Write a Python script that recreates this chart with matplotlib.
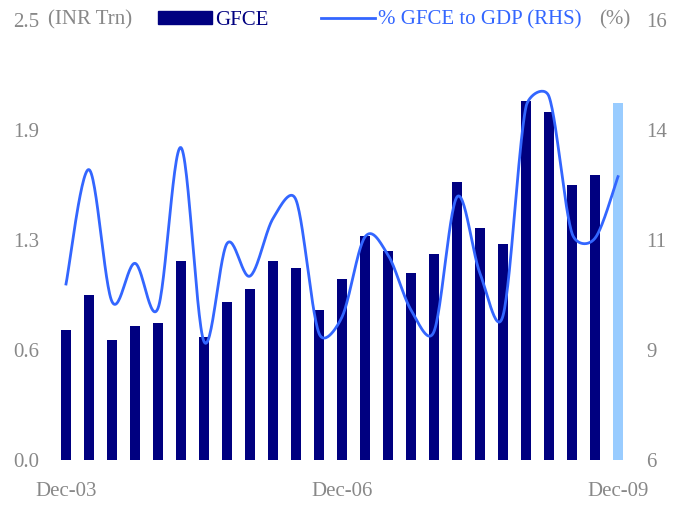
import matplotlib.pyplot as plt
import numpy as np
from matplotlib.patches import Patch
from matplotlib.lines import Line2D

# quarterly data, Dec-03 .. Dec-09
quarters = ['Dec-03', 'Mar-04', 'Jun-04', 'Sep-04', 'Dec-04', 'Mar-05', 'Jun-05', 'Sep-05', 'Dec-05',
            'Mar-06', 'Jun-06', 'Sep-06', 'Dec-06', 'Mar-07', 'Jun-07', 'Sep-07', 'Dec-07',
            'Mar-08', 'Jun-08', 'Sep-08', 'Dec-08', 'Mar-09', 'Jun-09', 'Sep-09', 'Dec-09']
gfce = [0.74, 0.94, 0.68, 0.76, 0.78, 1.13, 0.70, 0.90, 0.97, 1.13, 1.09, 0.85, 1.03,
        1.27, 1.19, 1.06, 1.17, 1.58, 1.32, 1.23, 2.04, 1.98, 1.56, 1.62, 2.03]
gfce_pct_gdp = [10.0, 12.6, 9.6, 10.47, 9.45, 13.1, 8.69, 10.92, 10.18, 11.49, 11.91, 8.88, 9.25,
                11.07, 10.66, 9.41, 8.92, 11.98, 10.24, 9.28, 14.03, 14.26, 11.15, 11.04, 12.44]
xlabels = {0: 'Dec-03', 12: 'Dec-06', 24: 'Dec-09'}
left_ticks = [0, 0.625, 1.25, 1.875, 2.5]
left_labels = ['0.0', '0.6', '1.3', '1.9', '2.5']
right_ticks = [6, 8.5, 11, 13.5, 16]
right_labels = ['6', '9', '11', '14', '16']

navy = '#000080'
light = '#99CCFF'
blue = '#3366FF'
grey = '#888888'
plt.rcParams['font.family'] = 'Liberation Serif'
fs = 15

W, H = 681, 508
fig = plt.figure(figsize=(W / 100, H / 100), dpi=100)
ax = fig.add_axes([50 / W, 48 / H, 582 / W, 440 / H])

x = np.arange(len(quarters))
colors = [navy] * (len(quarters) - 1) + [light]
ax.bar(x, gfce, width=0.44, color=colors)
ax.set_xlim(-16 / 23, 24 + 14 / 23)
ax.set_ylim(0, 2.5)
ax.set_yticks(left_ticks)
ax.set_yticklabels(left_labels)
ax.set_xticks(list(xlabels.keys()))
ax.set_xticklabels(list(xlabels.values()))
ax.tick_params(axis='y', length=0, pad=8, labelcolor=grey, labelsize=fs)
ax.tick_params(axis='x', length=0, pad=16, labelcolor=grey, labelsize=fs)


def excel_smooth(xs, ys, sx, sy, n=30):
    # excel style smoothed line: bezier segments, control arms capped at half segment (pixel space)
    P = np.column_stack([np.asarray(xs, float) * sx, np.asarray(ys, float) * sy])
    t = np.linspace(0, 1, n)[:, None]
    out = []
    for i in range(len(P) - 1):
        p0 = P[i - 1] if i > 0 else P[i]
        p1, p2 = P[i], P[i + 1]
        p3 = P[i + 2] if i + 2 < len(P) else P[i + 1]
        d02 = np.linalg.norm(p2 - p0)
        d12 = np.linalg.norm(p2 - p1)
        d13 = np.linalg.norm(p3 - p1)
        f1 = 1 / 6 if d02 / 6 < d12 / 2 else d12 / 2 / d02
        f2 = 1 / 6 if d13 / 6 < d12 / 2 else d12 / 2 / d13
        b1 = p1 + (p2 - p0) * f1
        b2 = p2 - (p3 - p1) * f2
        seg = (1 - t) ** 3 * p1 + 3 * (1 - t) ** 2 * t * b1 + 3 * (1 - t) * t ** 2 * b2 + t ** 3 * p2
        out.append(seg)
    out = np.vstack(out)
    return out[:, 0] / sx, out[:, 1] / sy


ax2 = ax.twinx()
cx, cy = excel_smooth(x, gfce_pct_gdp, 23, 44)
ax2.plot(cx, cy, color=blue, lw=2)
ax2.set_ylim(6, 16)
ax2.set_yticks(right_ticks)
ax2.set_yticklabels(right_labels)
ax2.tick_params(axis='y', length=0, pad=10, labelcolor=grey, labelsize=fs)

for a in (ax, ax2):
    for s in a.spines.values():
        s.set_visible(False)

handles = [Patch(color=navy), Line2D([], [], color=blue, lw=2)]
leg = fig.legend(handles, ['GFCE', '% GFCE to GDP (RHS)'], ncol=2, frameon=False,
                 loc='center left', bbox_to_anchor=(158 / W, 1 - 20 / H),
                 fontsize=fs, handlelength=2.6, handletextpad=0.15, columnspacing=2.5,
                 borderpad=0, borderaxespad=0, handleheight=0.6)
leg.get_texts()[0].set_color(navy)
leg.get_texts()[1].set_color(blue)

fig.text(48 / W, 1 - 20 / H, '(INR Trn)', color=grey, fontsize=fs, va='center')
fig.text(599 / W, 1 - 20 / H, '(%)', color=grey, fontsize=fs, va='center')

fig.savefig('out.png', dpi=100)
